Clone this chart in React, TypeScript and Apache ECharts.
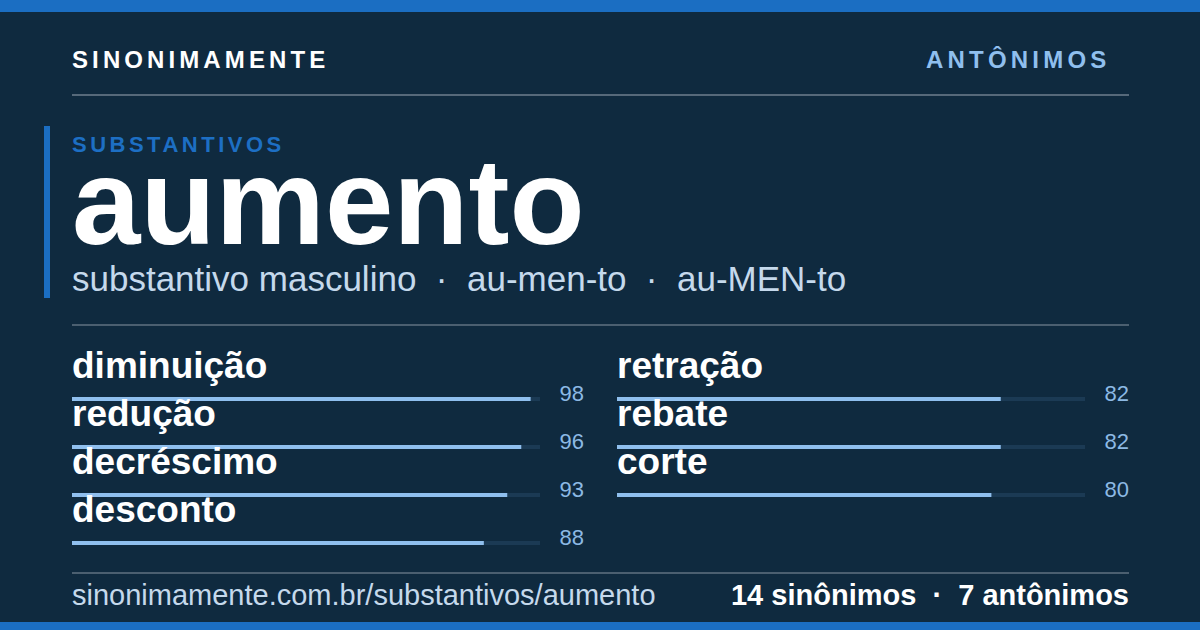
import { useEffect, useRef } from 'react';
import * as echarts from 'echarts';

// word list, two columns
const leftWords = ['diminuição', 'redução', 'decréscimo', 'desconto'];
const leftScores = [98, 96, 93, 88];
const rightWords = ['retração', 'rebate', 'corte'];
const rightScores = [82, 82, 80];
const scoreMax = 100;

const BG = '#0f2a3f';
const BLUE = '#1b6ec2';
const LIGHT = '#8fbfee';
const NUM = '#8cb9e4';
const TRACK = '#1b3a54';
const MUTED = '#c5d9ec';
const RULE = '#4b5f70';
const FONT = '"Liberation Sans", Arial, sans-serif';

// zrender has no letterSpacing, so it is set on the svg <text> after render
const SPACED: Record<string, string> = {
  SINONIMAMENTE: '4.1px',
  'ANTÔNIMOS': '4.2px',
  SUBSTANTIVOS: '3.5px',
};

// y of a "middle" aligned text from its baseline
const mid = (baseline: number, size: number) => baseline - 0.3465 * size;

function txt(text: string, x: number, baseline: number, size: number, fill: string, bold = false, align = 'left') {
  return {
    type: 'text',
    x,
    y: mid(baseline, size),
    silent: true,
    style: {
      text,
      fill,
      fontSize: size,
      fontWeight: bold ? 'bold' : 'normal',
      fontFamily: FONT,
      align,
      verticalAlign: 'middle',
    },
  };
}

function hrule(y: number, color: string) {
  return {
    type: 'line',
    silent: true,
    shape: { x1: 72, y1: y, x2: 1129, y2: y },
    style: { stroke: color, lineWidth: 2 },
  };
}

function column(idx: number, words: string[], scores: number[]) {
  return [
    {
      type: 'bar',
      xAxisIndex: idx,
      yAxisIndex: idx,
      data: scores,
      barWidth: 4,
      silent: true,
      showBackground: true,
      backgroundStyle: { color: TRACK },
      itemStyle: { color: LIGHT },
      label: {
        show: true,
        position: [512, -3.1],
        align: 'right',
        verticalAlign: 'middle',
        color: NUM,
        fontSize: 22,
        fontFamily: FONT,
        textBorderWidth: 0,
      },
    },
    {
      type: 'bar',
      xAxisIndex: idx,
      yAxisIndex: idx,
      data: scores,
      barWidth: 4,
      barGap: '-100%',
      silent: true,
      itemStyle: { color: 'transparent' },
      label: {
        show: true,
        position: [0, -31.5],
        align: 'left',
        verticalAlign: 'middle',
        formatter: (p: any) => words[p.dataIndex],
        color: '#ffffff',
        fontSize: 37,
        fontWeight: 'bold',
        fontFamily: FONT,
        textBorderWidth: 0,
      },
    },
  ];
}

function buildOption(): echarts.EChartsOption {
  return {
    animation: false,
    backgroundColor: BG,
    grid: [
      { left: 72, top: 375, width: 468, height: leftWords.length * 48 },
      { left: 617, top: 375, width: 468, height: rightWords.length * 48 },
    ],
    xAxis: [
      { type: 'value', gridIndex: 0, min: 0, max: scoreMax, show: false },
      { type: 'value', gridIndex: 1, min: 0, max: scoreMax, show: false },
    ],
    yAxis: [
      { type: 'category', gridIndex: 0, data: leftWords, inverse: true, show: false },
      { type: 'category', gridIndex: 1, data: rightWords, inverse: true, show: false },
    ],
    series: [...column(0, leftWords, leftScores), ...column(1, rightWords, rightScores)] as any,
    graphic: {
      elements: [
        { type: 'rect', silent: true, shape: { x: 0, y: 0, width: 1200, height: 12 }, style: { fill: BLUE } },
        { type: 'rect', silent: true, shape: { x: 0, y: 622, width: 1200, height: 8 }, style: { fill: BLUE } },
        txt('SINONIMAMENTE', 72, 67.5, 24, '#ffffff', true),
        txt('ANTÔNIMOS', 926, 67.5, 24, LIGHT, true),
        hrule(95, '#56697a'),
        { type: 'rect', silent: true, shape: { x: 44, y: 126, width: 6, height: 172 }, style: { fill: BLUE } },
        txt('SUBSTANTIVOS', 72, 152.5, 22, '#1d6fc4', true),
        txt('aumento', 72, 244, 123, '#ffffff', true),
        txt('substantivo masculino', 72, 291, 35, MUTED),
        txt('·', 441.7, 291, 35, MUTED, false, 'center'),
        txt('au-men-to', 467, 291, 35, MUTED),
        txt('·', 651.7, 291, 35, MUTED, false, 'center'),
        txt('au-MEN-to', 677, 291, 35, MUTED),
        hrule(325, RULE),
        hrule(573, RULE),
        txt('sinonimamente.com.br/substantivos/aumento', 72, 605, 29, MUTED),
        txt('14 sinônimos\u00a0\u00a0·\u00a0\u00a07 antônimos', 1129, 605, 29, '#ffffff', true, 'right'),
      ],
    } as any,
  };
}

export default function App() {
  const ref = useRef<HTMLDivElement | null>(null);

  useEffect(() => {
    const el = ref.current;
    if (!el) return;
    const chart = echarts.init(el, null, { renderer: 'svg' });

    const applySpacing = () => {
      el.querySelectorAll('text').forEach((t) => {
        const ls = SPACED[(t.textContent || '').trim()];
        if (ls) t.style.letterSpacing = ls;
      });
    };
    chart.on('finished', applySpacing);
    chart.setOption(buildOption());
    applySpacing();

    return () => {
      chart.dispose();
    };
  }, []);

  return <div ref={ref} style={{ position: 'fixed', left: 0, top: 0, width: 1200, height: 630 }} />;
}
